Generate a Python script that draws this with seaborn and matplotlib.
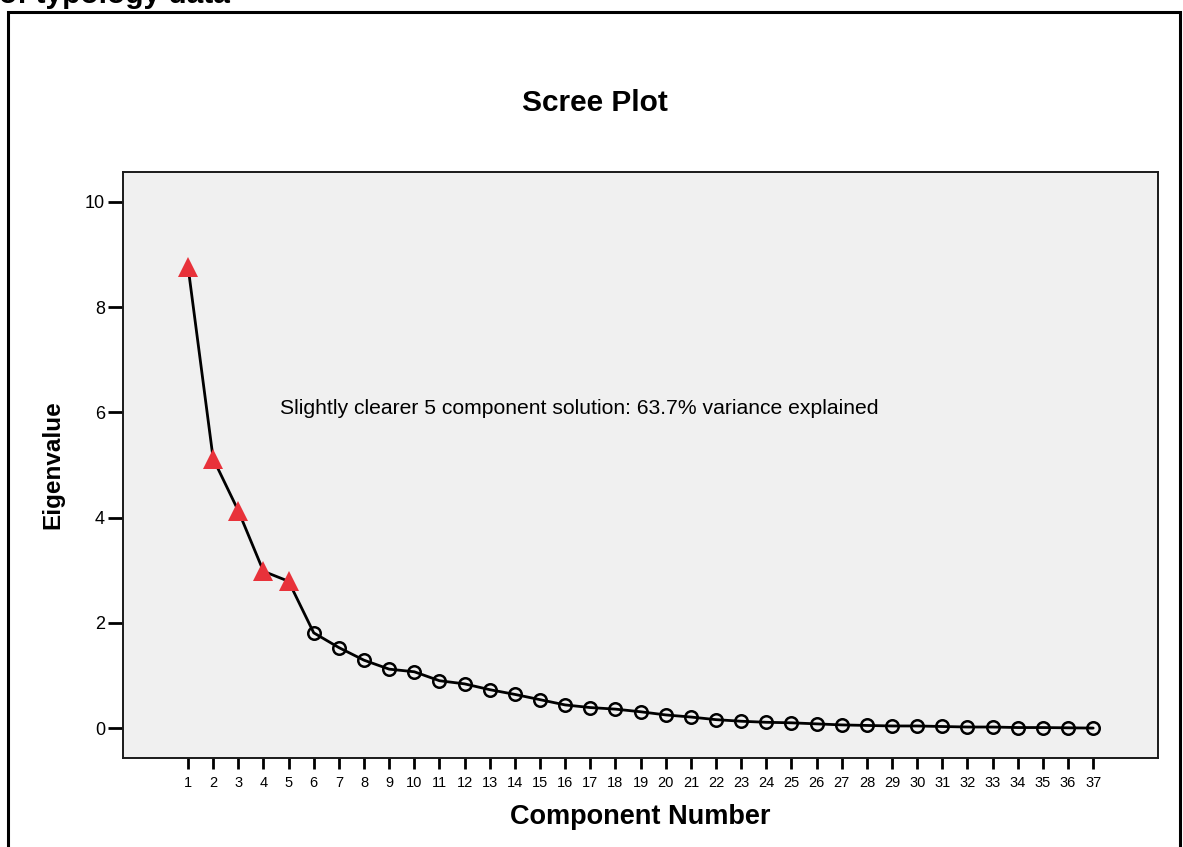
import matplotlib
matplotlib.use("Agg")
import matplotlib.pyplot as plt
from matplotlib.patches import Rectangle
import seaborn as sns
import pandas as pd

# Eigenvalues of the principal components
components = list(range(1, 38))
eigenvalues = [8.77, 5.12, 4.13, 2.98, 2.79, 1.81, 1.53, 1.29, 1.12, 1.07,
               0.90, 0.84, 0.73, 0.64, 0.54, 0.44, 0.39, 0.36, 0.31, 0.25,
               0.21, 0.16, 0.13, 0.11, 0.10, 0.08, 0.06, 0.05, 0.04, 0.04,
               0.03, 0.02, 0.02, 0.01, 0.01, 0.005, 0.00]
n_retained = 5
y_ticks = [0, 2, 4, 6, 8, 10]

chart_title = "Scree Plot"
header_text = "of typology data"
note_text = "Slightly clearer 5 component solution: 63.7% variance explained"

df = pd.DataFrame({"component": components, "eigenvalue": eigenvalues})
df["retained"] = df["component"] <= n_retained

sns.set_style("ticks")
plt.rcParams["font.family"] = ["Liberation Sans", "DejaVu Sans"]
plt.rcParams["text.color"] = "black"
plt.rcParams["axes.labelcolor"] = "black"
plt.rcParams["xtick.color"] = "black"
plt.rcParams["ytick.color"] = "black"

fig = plt.figure(figsize=(11.83, 8.47), dpi=100)
ax = fig.add_axes([0.104, 0.105, 0.875, 0.692])
ax.set_facecolor("#f0f0f0")

sns.lineplot(data=df, x="component", y="eigenvalue", color="black",
             linewidth=2.0, ax=ax, zorder=2)
kept = df[df["retained"]]
rest = df[~df["retained"]]
ax.plot(kept["component"], kept["eigenvalue"], linestyle="none", marker="^",
        markersize=15, color="#e8323a", markeredgewidth=0, zorder=3)
ax.plot(rest["component"], rest["eigenvalue"], linestyle="none", marker="o",
        markersize=9, markerfacecolor="none", markeredgecolor="black",
        markeredgewidth=1.8, zorder=3)

ax.set_xlim(-1.585, 39.585)
ax.set_ylim(-0.57, 10.57)
ax.set_xticks(components)
ax.set_xticklabels([str(c) for c in components], fontsize=10.5)
ax.set_yticks(y_ticks)
ax.set_yticklabels([str(v) for v in y_ticks], fontsize=13)
ax.tick_params(axis="x", length=8, width=2, pad=5)
ax.tick_params(axis="y", length=11, width=2, pad=2)

for side in ["left", "right", "top", "bottom"]:
    ax.spines[side].set_visible(True)
    ax.spines[side].set_color("#1a1a1a")
    ax.spines[side].set_linewidth(1.4)

ax.set_xlabel("Component Number", fontsize=19.5, fontweight="bold", va="center")
ax.xaxis.set_label_coords(0.5, -0.1007)
ax.set_ylabel("Eigenvalue", fontsize=17.5, fontweight="bold", va="center")
ax.yaxis.set_label_coords(-0.0676, 0.5)

ax.text(4.66, 6.08, note_text, fontsize=15.2, ha="left", va="center")

fig.text(0.503, 0.878, chart_title, fontsize=21.5, fontweight="bold",
         ha="center", va="center")
fig.text(-0.001, 1 - 3 / 847, header_text, fontsize=21.5, fontweight="bold",
         ha="left", va="baseline")

# Outer frame around the whole chart
fig.patches.append(Rectangle((7.5 / 1183, -0.05), (1180 - 7.5) / 1183,
                             1.05 - 12 / 847, transform=fig.transFigure,
                             fill=False, edgecolor="black", linewidth=2.2))

fig.savefig("out.png", dpi=100)
